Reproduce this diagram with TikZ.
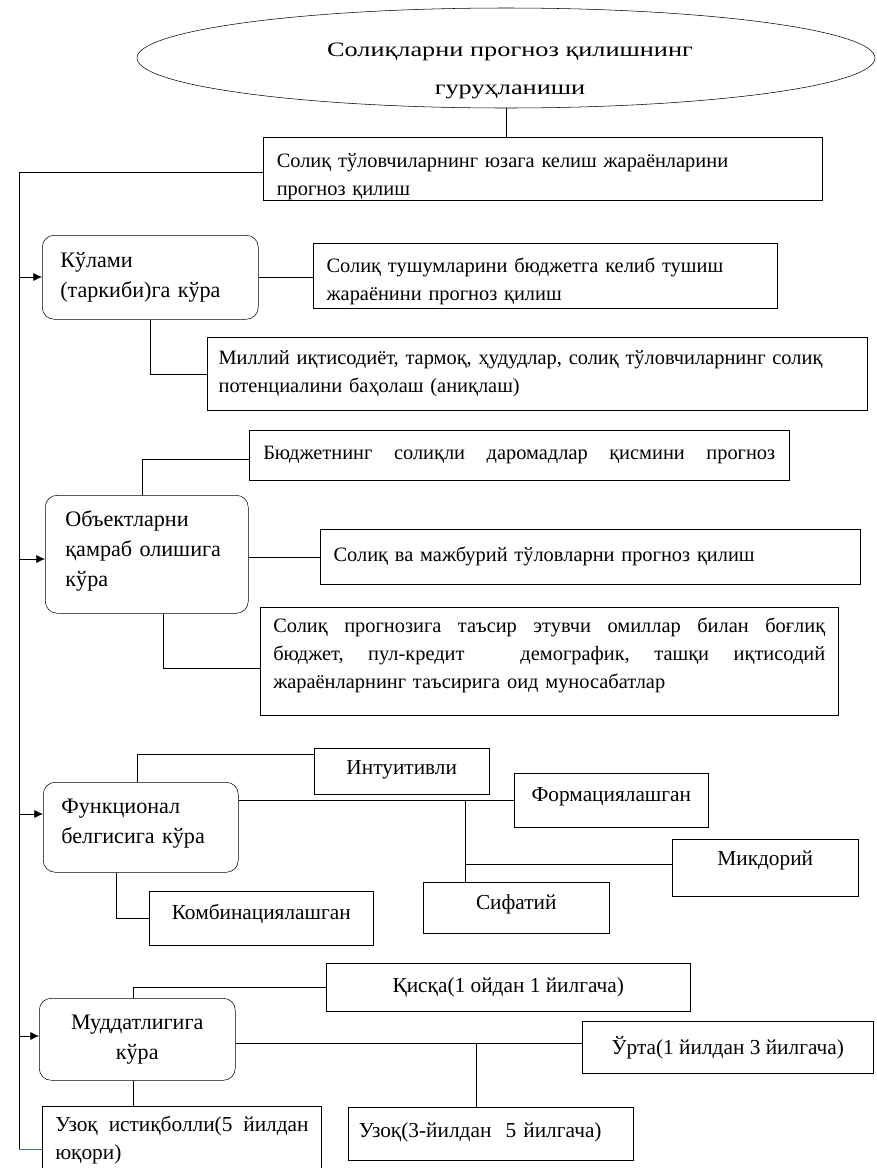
\documentclass[tikz,border=0pt]{standalone}
\usepackage{fontspec}
\setmainfont{Liberation Serif}
\usetikzlibrary{shapes.geometric}
\usetikzlibrary{calc}
\usetikzlibrary{arrows.meta}
\tikzset{>={Latex[length=6.5pt,width=6pt]}, line width=0.8pt}
\definecolor{trunkblue}{RGB}{65,113,156}
\tikzset{
  wh/.style 2 args={minimum width=#1*0.75pt,minimum height=#2*0.75pt},
  sqbox/.style={draw,rectangle,anchor=north west,inner xsep=10pt,inner ysep=0pt,
    align=left,font=\fontsize{15.3}{21}\selectfont},
  rbox/.style={sqbox,rounded corners=9pt,inner xsep=13.5pt,
    font=\fontsize{16.6}{22.5}\selectfont},
  cbox/.style={sqbox,align=center,font=\fontsize{16}{21}\selectfont},
}

\begin{document}
\begin{tikzpicture}[x=0.75pt,y=-0.75pt]
  \useasboundingbox (0,0) rectangle (877,1168);
  \clip (0,0) rectangle (877,1168);

  % title
  \node[ellipse,draw,wh={738}{100},inner sep=0pt]
    (ell) at (506,58) {};
  \node[inner sep=0pt,font=\fontsize{15.3}{28.5}\selectfont]
    (elltxt) at (510,68) {\scalebox{1.29}[1]{\begin{tabular}{@{}c@{}}Солиқларни прогноз қилишнинг\\ гуруҳланиши\end{tabular}}};
  \node[sqbox,wh={559}{63},text width=399pt]
    (box1) at (263,137) {\rule{0pt}{22.5pt}Солиқ тўловчиларнинг юзага келиш жараёнларини\\ прогноз қилиш};

  % scope
  \node[rbox,wh={216}{84},text width=135pt]
    (kul) at (42,235) {Кўлами\\ (таркиби)га кўра};
  \node[sqbox,wh={464}{65},text width=328pt]
    (tush) at (313,243) {\rule{0pt}{18.7pt}Солиқ тушумларини бюджетга келиб тушиш\\ жараёнини прогноз қилиш};
  \node[sqbox,wh={660}{73},text width=478pt,inner xsep=8.5pt]
    (mil) at (207,337) {Миллий иқтисодиёт, тармоқ, ҳудудлар, солиқ тўловчиларнинг солиқ\\ потенциалини баҳолаш (аниқлаш)};

  % objects
  \node[rbox,wh={203}{118},text width=122pt,inner xsep=15pt]
    (obj) at (45,495) {Объектларни\\ қамраб олишига\\ кўра\rule[-8pt]{0pt}{8pt}};
  \node[sqbox,wh={540}{50},text width=384pt,inner xsep=10.5pt]
    (bud) at (249,430) {\makebox[384pt][s]{Бюджетнинг\hfill солиқли\hfill даромадлар\hfill қисмини\hfill прогноз}};
  \node[sqbox,wh={540}{55},text width=385pt]
    (maj) at (320,529) {Солиқ ва мажбурий тўловларни прогноз қилиш};
  \node[sqbox,wh={578}{108},text width=414pt,inner xsep=9.75pt]
    (tas) at (260,607) {\makebox[414pt][s]{Солиқ\hfill прогнозига\hfill таъсир\hfill этувчи\hfill омиллар\hfill билан\hfill боғлиқ}\\
      \makebox[414pt][s]{бюджет,\hfill пул-кредит\hfill\ \hfill демографик,\hfill ташқи\hfill иқтисодий}\\
      жараёнларнинг таъсирига оид муносабатлар\rule[-12pt]{0pt}{12pt}};

  % function
  \node[rbox,wh={195}{90},text width=119pt]
    (fun) at (43,782) {Функционал\\ белгисига кўра\rule[-9pt]{0pt}{9pt}};
  \node[cbox,wh={175}{46}]
    (int) at (314,748) {Интуитивли\rule[-5pt]{0pt}{5pt}};
  \node[cbox,wh={194}{54}]
    (form) at (514,773) {Формациялашган\rule[-8pt]{0pt}{8pt}};
  \node[cbox,wh={186}{57}]
    (mik) at (672,839) {Микдорий\rule[-15pt]{0pt}{15pt}};
  \node[cbox,wh={186}{51}]
    (sif) at (423,882) {Сифатий\rule[-9pt]{0pt}{9pt}};
  \node[cbox,wh={224}{54}]
    (kom) at (149,891) {Комбинациялашган\rule[-9pt]{0pt}{9pt}};

  % term
  \node[rbox,wh={196}{82},align=center]
    (mud) at (39,998) {Муддатлигига\\ кўра};
  \node[cbox,wh={364}{48}]
    (qis) at (326,963) {Қисқа(1 ойдан 1 йилгача)};
  \node[cbox,wh={291}{52}]
    (urt) at (582,1021) {Ўрта(1 йилдан 3 йилгача)};
  \node[sqbox,wh={276}{68},text width=190pt,inner xsep=9.75pt,font=\fontsize{16}{21}\selectfont]
    (uzi) at (42,1106) {\makebox[190pt][s]{Узоқ\hfill истиқболли(5\hfill йилдан}\\ юқори)};
  \node[sqbox,wh={285}{53},text width=198pt,inner xsep=7.5pt,font=\fontsize{16}{21}\selectfont]
    (uzq) at (348,1107) {Узоқ(3-йилдан\ \ 5 йилгача)\rule[-5pt]{0pt}{5pt}};

  % trunk
  \coordinate (t0) at (19,172);
  \coordinate (t1) at (19,277);
  \coordinate (t2) at (19,559);
  \coordinate (t3) at (19,814);
  \coordinate (t4) at (19,1036);
  \coordinate (t5) at (19,1149);
  \draw (ell.south) -- (ell.south |- box1.north);
  \draw (box1.west |- t0) -- (t0) -- (t5);
  \draw[trunkblue] (t5) -- (t5 -| uzi.west);
  \draw[->] (t1) to[] (t1 -| kul.west);
  \draw[->] (t2) to[] (t2 -| obj.west);
  \draw[->] (t3) to[] (t3 -| fun.west);
  \draw[->] (t4) to[] (t4 -| mud.west);

  % branches
  \draw (kul.east) -- (kul.east -| tush.west);
  \draw ($(kul.south west)+(108,0)$) |- (mil.west);
  \draw ($(obj.north west)+(97,0)$) |- ($(bud.west)+(0,4)$);
  \draw (obj.east |- maj.west) -- (maj.west);
  \draw ($(obj.south west)+(118,0)$) |- ($(tas.west)+(0,7)$);
  \draw ($(fun.north west)+(94,0)$) |- ($(int.north west)+(0,6)$);
  \coordinate (j1) at (465,800);
  \draw (fun.east |- j1) -- (j1 -| form.west);
  \draw (j1) -- (j1 |- sif.north);
  \draw (j1 |- 0,864) -- (mik.west |- 0,864);
  \draw ($(fun.south west)+(73,0)$) |- (kom.west);
  \draw ($(mud.north west)+(94,0)$) |- (qis.west);
  \coordinate (j2) at (476,1043);
  \draw (mud.east |- j2) -- (j2 -| urt.west);
  \draw (j2) -- (j2 |- uzq.north);
  \coordinate (m3) at ($(mud.south west)+(94,0)$);
  \draw (m3) -- (m3 |- uzi.north);
\end{tikzpicture}
\end{document}
